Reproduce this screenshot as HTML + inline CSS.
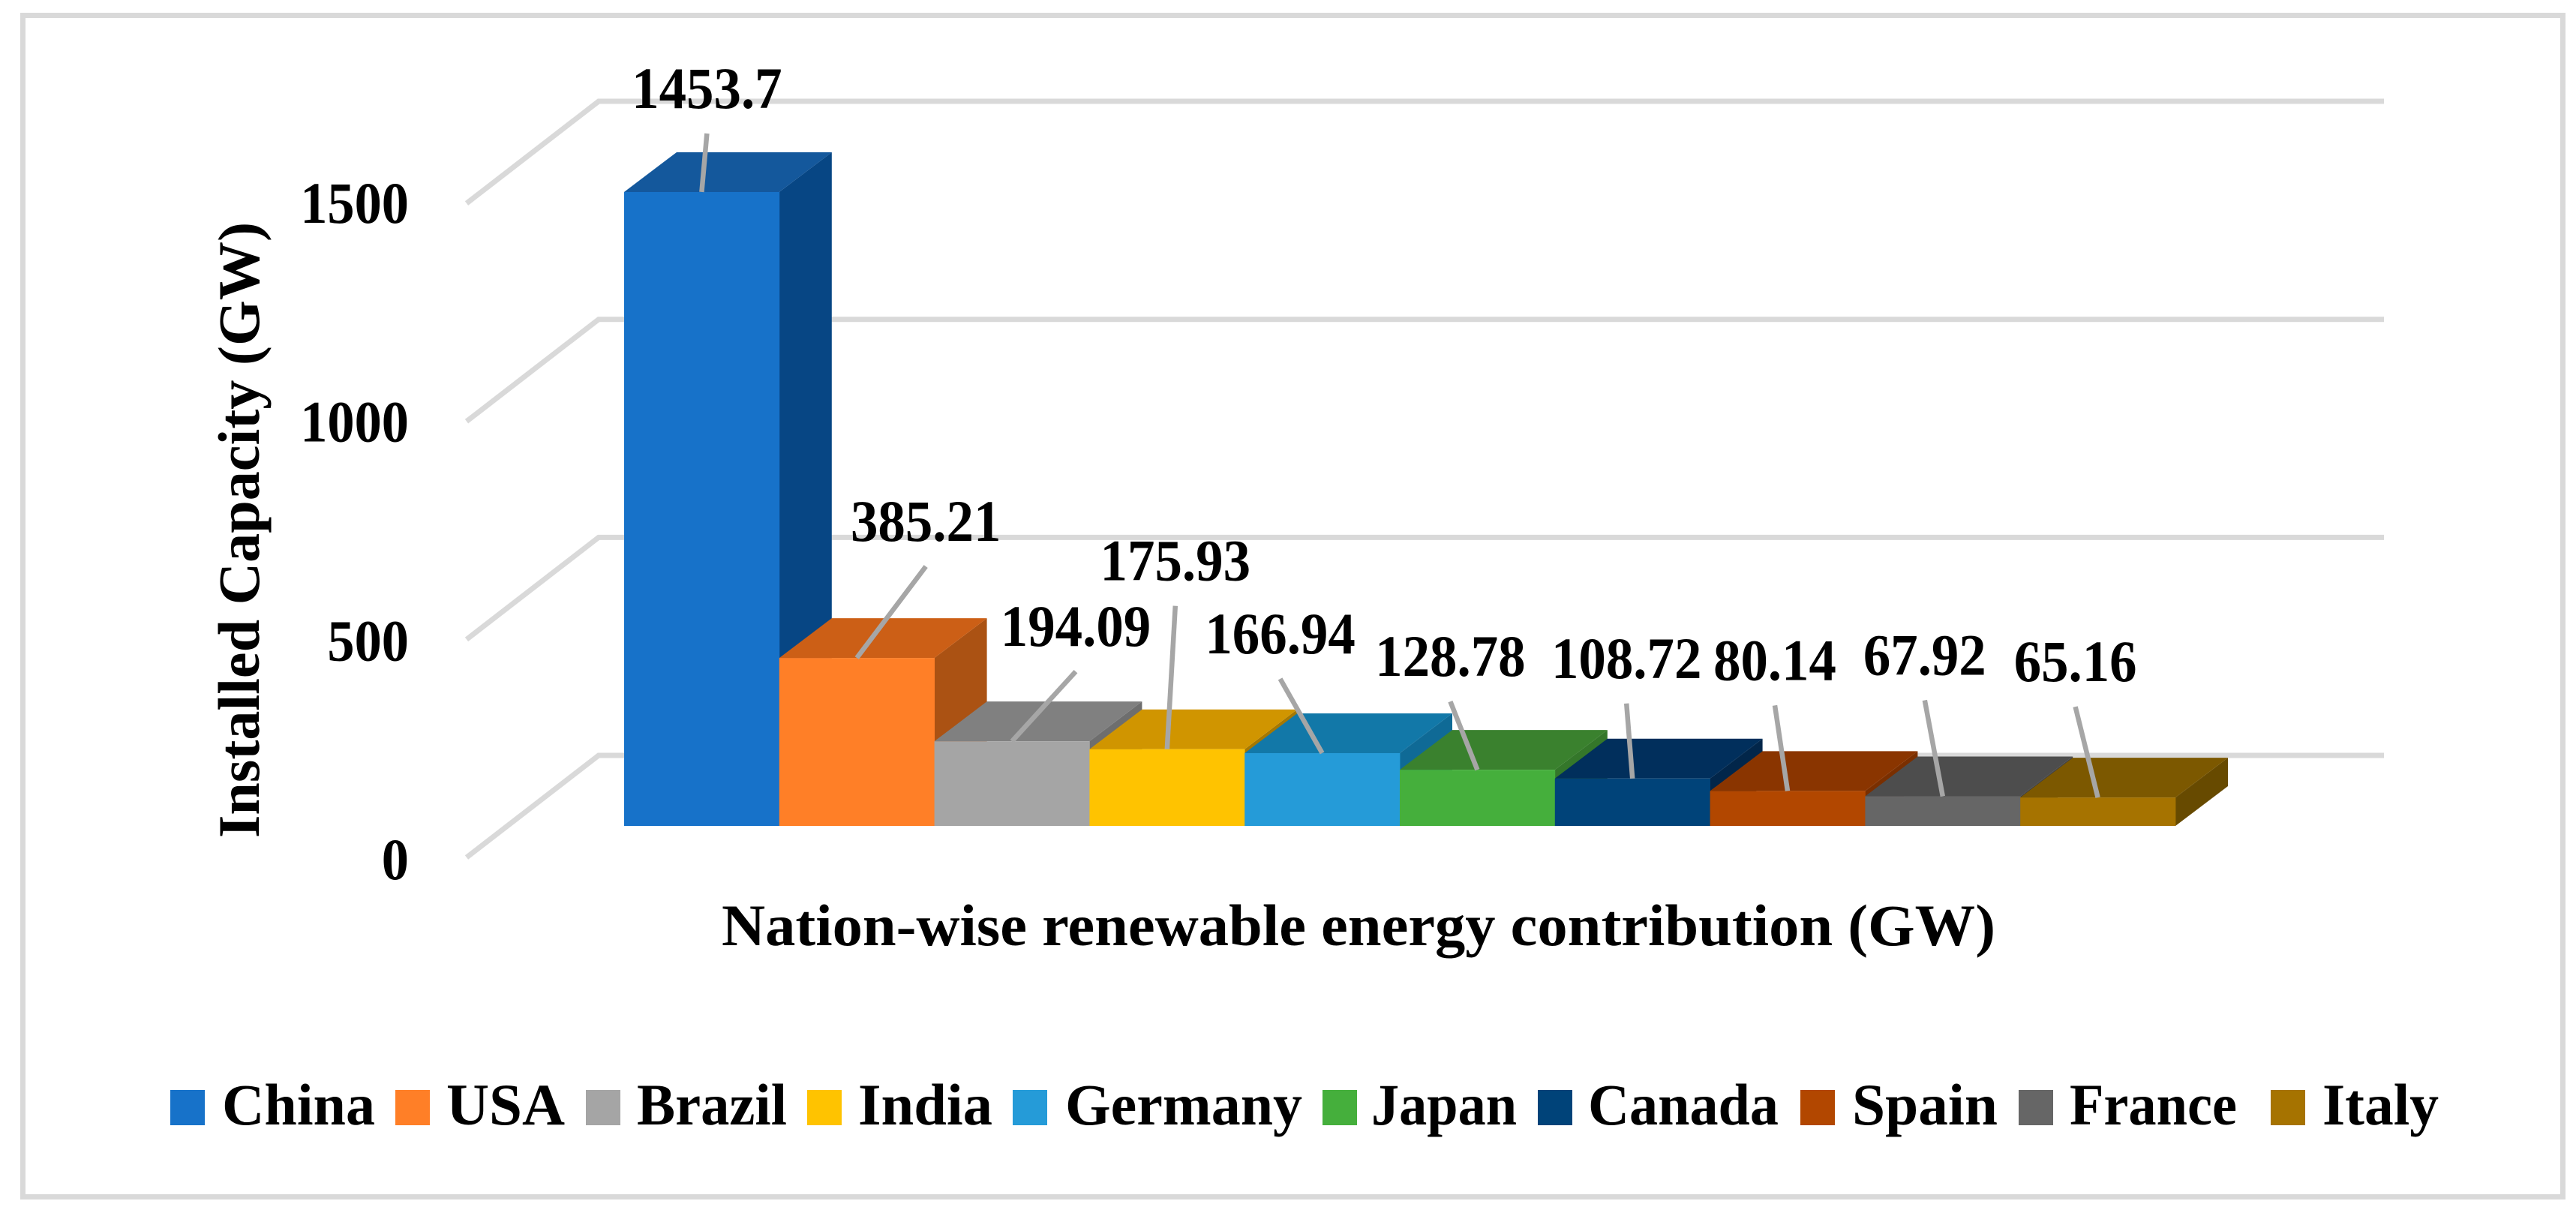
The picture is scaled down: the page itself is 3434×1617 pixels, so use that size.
<!DOCTYPE html>
<html lang="en">
<head>
<meta charset="utf-8">
<title>Nation-wise renewable energy contribution</title>
<style>
html,body{margin:0;padding:0;background:#fff;}
svg{display:block;}
text{font-family:"Liberation Serif","Noto Serif CJK SC",serif;font-weight:700;font-size:78px;fill:#000;}
</style>
</head>
<body>
<svg id="chart" xmlns="http://www.w3.org/2000/svg" width="3434" height="1617" viewBox="0 0 3434 1617">
  <rect x="0" y="0" width="3434" height="1617" fill="#fff"/>
  <rect x="30.5" y="20.5" width="3386" height="1575" fill="none" stroke="#D9D9D9" stroke-width="7"/>
  <g id="grid"></g>
  <g id="ticks"></g>
  <g id="bars"></g>
  <g id="leaders"></g>
  <g id="labels"></g>
  <text transform="translate(345,1117) rotate(-90)" x="0" y="0" textLength="821" lengthAdjust="spacingAndGlyphs">Installed Capacity (GW)</text>
  <text x="962" y="1260" textLength="1698" lengthAdjust="spacingAndGlyphs">Nation-wise renewable energy contribution (GW)</text>
  <g id="legend"></g>
</svg>
<script>
// ---- chart data ----
const categories = ["China","USA","Brazil","India","Germany","Japan","Canada","Spain","France","Italy"];
const capacityValues = [1453.7,385.21,194.09,175.93,166.94,128.78,108.72,80.14,67.92,65.16];
const tickValues = [0,500,1000,1500];

// ---- styling (separate from the data) ----
const frontColors = ["#1772C9","#FF7F27","#A5A5A5","#FFC300","#259BD8","#45AF3C","#004379","#B24700","#666666","#A67300"];
const topColors   = ["#14589C","#CC5F16","#808080","#D09500","#1278A8","#3A812E","#012F5C","#8A3500","#4D4D4D","#7C5800"];
const sideColors  = ["#074684","#AB5213","#6E6E6E","#A67800","#0F6A96","#34772A","#02264A","#7A2F00","#404040","#674A00"];

// ---- layout (relative offsets and legend placement) ----
const leaderDx = [7,92,85,11,-56,-36,-8,-17,-24,-30];
const leaderDy = [-78,-122,-93,-191,-99,-91,-100,-114,-128,-121];
const legendSwatchLeft = [227,527,781,1076,1350,1763,2050,2400,2691,3027];
const legendTextLeft = [296,595,849,1144,1420,1828,2117,2469,2759,3096];
const legendTextWidth = [204,158,200,179,316,194,254,194,223,155];

const SVGNS = "http://www.w3.org/2000/svg";
const PX_PER_UNIT = 0.5813;
const BASELINE = 1101, BAR_LEFT = 832, BAR_W = 206.8, DEPTH_X = 70, DEPTH_Y = 53;
const BACK_ZERO = 1007, WALL_LEFT = 798, WALL_RIGHT = 3178, FLOOR_DX = 176, FLOOR_DY = 136;

function yBar(v){ return BASELINE - v * PX_PER_UNIT; }
function yWall(v){ return BACK_ZERO - v * PX_PER_UNIT; }
function xBar(i){ return BAR_LEFT + i * BAR_W; }
function make(tag, attrs, parent){
  const el = document.createElementNS(SVGNS, tag);
  for (const k in attrs) el.setAttribute(k, attrs[k]);
  parent.appendChild(el);
  return el;
}
function slug(s){ return s.toLowerCase(); }

const gridG = document.getElementById("grid");
const ticksG = document.getElementById("ticks");
const barsG = document.getElementById("bars");
const leadersG = document.getElementById("leaders");
const labelsG = document.getElementById("labels");
const legendG = document.getElementById("legend");

// Gridlines and tick labels
tickValues.forEach(function(t){
  const y = yWall(t);
  const grid = make("polyline", {points:(WALL_LEFT-FLOOR_DX)+","+(y+FLOOR_DY)+" "+WALL_LEFT+","+y+" "+WALL_RIGHT+","+y, fill:"none", stroke:"#D9D9D9", "stroke-width":7}, gridG);
  
  
  const digits = String(t).length;
  const label = make("text", {x:545-digits*36.2, y:y+165-(t/1500)*3, textLength:digits*36.2, lengthAdjust:"spacingAndGlyphs"}, ticksG);
  label.textContent = String(t);
  
  
});

// Bars, painted left to right so each top face overlaps the previous side face
capacityValues.forEach(function(v,i){
  const x0 = xBar(i), x1 = xBar(i+1), yt = yBar(v), name = slug(categories[i]);
  const side = make("polygon", {points:[[x1,yt],[x1+DEPTH_X,yt-DEPTH_Y],[x1+DEPTH_X,BASELINE-DEPTH_Y],[x1,BASELINE]].join(" "), fill:sideColors[i]}, barsG);
  
  
  const top = make("polygon", {points:[[x0,yt],[x0+DEPTH_X,yt-DEPTH_Y],[x1+DEPTH_X,yt-DEPTH_Y],[x1,yt]].join(" "), fill:topColors[i]}, barsG);
  
  
  const front = make("rect", {x:x0, y:yt, width:BAR_W+0.4, height:BASELINE-yt, fill:frontColors[i]}, barsG);
  
  
});

// Leader lines and value labels
capacityValues.forEach(function(v,i){
  const cx = xBar(i) + BAR_W/2, yt = yBar(v), name = slug(categories[i]);
  const lx = cx + leaderDx[i], ly = yt + leaderDy[i];
  const leader = make("line", {x1:cx, y1:yt, x2:lx, y2:ly, stroke:"#A6A6A6", "stroke-width":6.5}, leadersG);
  
  
  const str = String(v);
  const digitCount = str.replace(".","").length;
  const w = digitCount*36.7 + (str.indexOf(".")>=0 ? 17 : 0);
  const label = make("text", {x:lx, y:ly-34, "text-anchor":"middle", textLength:w, lengthAdjust:"spacingAndGlyphs"}, labelsG);
  label.textContent = str;
  
  
});

// Legend
categories.forEach(function(c,i){
  const name = slug(c);
  const swatch = make("rect", {x:legendSwatchLeft[i], y:1453, width:46, height:47, fill:frontColors[i]}, legendG);
  
  
  const text = make("text", {x:legendTextLeft[i], y:1499, textLength:legendTextWidth[i], lengthAdjust:"spacingAndGlyphs"}, legendG);
  text.textContent = c;
  
  
});
</script>
</body>
</html>
